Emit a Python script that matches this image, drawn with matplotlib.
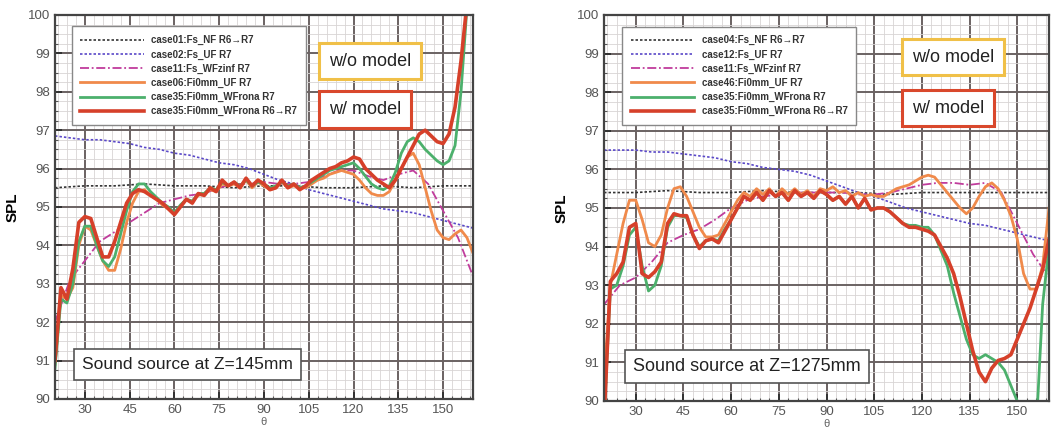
import numpy as np
import matplotlib
matplotlib.use("Agg")
import matplotlib.pyplot as plt
from matplotlib.ticker import MultipleLocator

plt.rcParams["font.family"] = ["Liberation Sans", "DejaVu Sans"]

# ── data ─────────────────────────────────────────────────────────────────────
THETA_FINE = np.arange(20, 161, 2)      # solid curves
THETA_COARSE = np.arange(20, 161, 5)    # dotted / dash-dot curves
THETA_FLAT = np.arange(20, 161, 10)     # NF reference

# left panel: source at Z=145mm
L_NF = [95.5, 95.55, 95.55, 95.6, 95.55, 95.55, 95.5, 95.55,
        95.55, 95.5, 95.5, 95.55, 95.5, 95.55, 95.55]
L_UF = [96.85, 96.8, 96.75, 96.75, 96.7, 96.65, 96.55, 96.5, 96.4, 96.35,
        96.25, 96.15, 96.1, 96.0, 95.85, 95.7, 95.6, 95.45, 95.35, 95.25,
        95.15, 95.05, 94.95, 94.9, 94.85, 94.75, 94.65, 94.55, 94.45]
L_WFZ = [92.0, 93.1, 93.6, 94.1, 94.35, 94.6, 94.85, 95.1, 95.2, 95.3,
         95.35, 95.5, 95.6, 95.6, 95.65, 95.6, 95.6, 95.65, 95.8, 95.95,
         95.95, 95.8, 95.7, 95.85, 95.95, 95.6, 94.9, 94.2, 93.2]
L_FI_UF = [90.9, 92.7, 92.6, 92.9, 94.0, 94.5, 94.4, 94.0, 93.6, 93.35,
           93.35, 93.9, 94.6, 95.1, 95.4, 95.45, 95.3, 95.2, 95.05, 94.95,
           94.85, 95.0, 95.2, 95.15, 95.3, 95.35, 95.45, 95.4, 95.6, 95.55,
           95.6, 95.5, 95.7, 95.5, 95.65, 95.55, 95.45, 95.5, 95.65, 95.5,
           95.55, 95.5, 95.5, 95.6, 95.7, 95.75, 95.85, 95.9, 95.95, 95.9,
           95.85, 95.7, 95.5, 95.35, 95.3, 95.3, 95.4, 95.7, 96.0, 96.3,
           96.4, 96.1, 95.5, 94.9, 94.4, 94.2, 94.15, 94.3, 94.4, 94.2, 93.8]
L_FI_WF = [90.8, 92.6, 92.5, 93.0, 94.1, 94.5, 94.5, 94.0, 93.6, 93.45,
           93.7, 94.3, 94.9, 95.4, 95.6, 95.6, 95.4, 95.25, 95.1, 95.0,
           94.85, 95.05, 95.2, 95.15, 95.35, 95.35, 95.5, 95.45, 95.65, 95.55,
           95.65, 95.55, 95.7, 95.55, 95.65, 95.6, 95.5, 95.55, 95.65, 95.55,
           95.6, 95.5, 95.55, 95.65, 95.75, 95.85, 95.95, 96.0, 96.05, 96.1,
           96.15, 96.0, 95.8, 95.6, 95.5, 95.45, 95.55, 95.9, 96.4, 96.7,
           96.8, 96.7, 96.5, 96.35, 96.2, 96.1, 96.2, 96.6, 98.0, 100.2, 101.5]
L_FI_WF67 = [91.0, 92.9, 92.6, 93.4, 94.6, 94.75, 94.7, 94.2, 93.7, 93.7,
             94.1, 94.6, 95.1, 95.35, 95.45, 95.4, 95.3, 95.2, 95.1, 94.95,
             94.8, 95.0, 95.2, 95.1, 95.35, 95.3, 95.5, 95.4, 95.7, 95.55,
             95.65, 95.5, 95.75, 95.55, 95.7, 95.6, 95.45, 95.5, 95.7, 95.5,
             95.6, 95.45, 95.55, 95.7, 95.8, 95.9, 96.0, 96.05, 96.15, 96.2,
             96.3, 96.25, 96.0, 95.85, 95.7, 95.6, 95.5, 95.7, 96.0, 96.3,
             96.6, 96.9, 97.0, 96.85, 96.7, 96.65, 96.9, 97.6, 98.8, 100.3, 101.5]

# right panel: source at Z=1275mm
R_NF = [95.4, 95.4, 95.45, 95.4, 95.4, 95.45, 95.4, 95.4,
        95.4, 95.35, 95.4, 95.4, 95.4, 95.4, 95.4]
R_UF = [96.5, 96.5, 96.5, 96.45, 96.45, 96.4, 96.35, 96.3, 96.2, 96.15,
        96.05, 96.0, 95.95, 95.85, 95.7, 95.55, 95.4, 95.3, 95.15, 95.0,
        94.9, 94.8, 94.7, 94.6, 94.55, 94.45, 94.35, 94.25, 94.15]
R_WFZ = [92.5, 93.0, 93.2, 93.6, 94.1, 94.3, 94.45, 94.7, 95.0, 95.2,
         95.3, 95.35, 95.4, 95.4, 95.4, 95.4, 95.35, 95.35, 95.4, 95.5,
         95.6, 95.65, 95.65, 95.6, 95.65, 95.4, 94.6, 93.8, 93.2]
R_FI_UF = [90.5, 93.0, 93.8, 94.6, 95.2, 95.2, 94.7, 94.1, 94.0, 94.3,
           95.0, 95.5, 95.55, 95.3, 94.9, 94.5, 94.25, 94.25, 94.3, 94.6,
           94.9, 95.2, 95.4, 95.3, 95.5, 95.35, 95.5, 95.3, 95.5, 95.35,
           95.5, 95.35, 95.45, 95.3, 95.5, 95.45, 95.55, 95.4, 95.45, 95.3,
           95.4, 95.3, 95.35, 95.3, 95.3, 95.4, 95.5, 95.55, 95.6, 95.7,
           95.8, 95.85, 95.8, 95.6, 95.4, 95.2, 95.0, 94.85, 95.0, 95.3,
           95.55, 95.65, 95.5, 95.2, 94.8, 94.2, 93.3, 92.9, 92.9, 93.5, 95.0]
R_FI_WF = [89.5, 92.9, 93.0, 93.5, 94.3, 94.5, 93.5, 92.85, 93.0, 93.5,
           94.5, 94.8, 94.8, 94.75, 94.3, 94.0, 94.15, 94.2, 94.15, 94.45,
           94.7, 95.0, 95.3, 95.2, 95.4, 95.2, 95.45, 95.3, 95.4, 95.2,
           95.45, 95.3, 95.4, 95.25, 95.45, 95.35, 95.2, 95.3, 95.1, 95.3,
           95.0, 95.25, 94.95, 95.0, 95.0, 94.9, 94.75, 94.6, 94.55, 94.55,
           94.5, 94.5, 94.3, 93.9, 93.5, 92.8, 92.2, 91.6, 91.2, 91.1,
           91.2, 91.1, 91.0, 90.8, 90.4, 90.0, 89.3, 89.0, 89.3, 92.5, 94.0]
R_FI_WF67 = [89.5, 93.1, 93.3, 93.6, 94.5, 94.6, 93.3, 93.2, 93.35, 93.6,
             94.6, 94.85, 94.8, 94.8, 94.3, 93.95, 94.15, 94.2, 94.1, 94.4,
             94.7, 95.0, 95.3, 95.2, 95.4, 95.2, 95.45, 95.3, 95.4, 95.2,
             95.45, 95.3, 95.4, 95.25, 95.45, 95.35, 95.2, 95.3, 95.1, 95.3,
             95.0, 95.25, 94.95, 95.0, 95.0, 94.9, 94.75, 94.6, 94.5, 94.5,
             94.45, 94.4, 94.3, 94.0, 93.7, 93.3, 92.7, 92.0, 91.3, 90.75,
             90.5, 90.85, 91.05, 91.1, 91.2, 91.6, 92.0, 92.4, 92.9, 93.4, 94.2]

L_LABELS = ["case01:Fs_NF R6\u2192R7", "case02:Fs_UF R7", "case11:Fs_WFzinf R7",
            "case06:Fi0mm_UF R7", "case35:Fi0mm_WFrona R7",
            "case35:Fi0mm_WFrona R6\u2192R7"]
R_LABELS = ["case04:Fs_NF R6\u2192R7", "case12:Fs_UF R7", "case11:Fs_WFzinf R7",
            "case46:Fi0mm_UF R7", "case35:Fi0mm_WFrona R7",
            "case35:Fi0mm_WFrona R6\u2192R7"]

PANELS = [
    dict(rect=[0.0523, 0.0764, 0.3977, 0.889],
         series=[L_NF, L_UF, L_WFZ, L_FI_UF, L_FI_WF, L_FI_WF67],
         labels=L_LABELS, source="Sound source at Z=145mm", src_fs=12.5,
         wo_pos=(0.754, 0.88), w_pos=(0.742, 0.753)),
    dict(rect=[0.5747, 0.0718, 0.4234, 0.8935],
         series=[R_NF, R_UF, R_WFZ, R_FI_UF, R_FI_WF, R_FI_WF67],
         labels=R_LABELS, source="Sound source at Z=1275mm", src_fs=13,
         wo_pos=(0.784, 0.891), w_pos=(0.773, 0.759)),
]

STYLES = [
    dict(color="#333333", ls=(0, (1.5, 1.2)), lw=1.2),
    dict(color="#5a48c8", ls=(0, (1.5, 1.2)), lw=1.2),
    dict(color="#c03c9c", ls=(0, (5, 1.5, 1, 1.5)), lw=1.3),
    dict(color="#f08a4b", ls="-", lw=2.0),
    dict(color="#4cb06c", ls="-", lw=2.0),
    dict(color="#d6402a", ls="-", lw=2.6),
]
X_SETS = [THETA_FLAT, THETA_COARSE, THETA_COARSE, THETA_FINE, THETA_FINE, THETA_FINE]

fig = plt.figure(figsize=(10.51, 4.32), dpi=100)

for p in PANELS:
    ax = fig.add_axes(p["rect"])
    for xs, ys, st, lab in zip(X_SETS, p["series"], STYLES, p["labels"]):
        ax.plot(xs, ys, label=lab, **st)

    ax.set_xlim(20, 160)
    ax.set_ylim(90, 100)
    ax.xaxis.set_major_locator(MultipleLocator(15))
    ax.xaxis.set_minor_locator(MultipleLocator(3))
    ax.yaxis.set_major_locator(MultipleLocator(1))
    ax.yaxis.set_minor_locator(MultipleLocator(0.25))
    ax.grid(which="major", color="#6a6262", lw=1.4)
    ax.grid(which="minor", color="#d8d4d4", lw=0.6)
    ax.set_axisbelow(True)
    ax.tick_params(which="major", direction="in", length=5, width=1.4,
                   labelsize=9.5, labelcolor="#555555", color="#333333")
    ax.tick_params(which="minor", direction="in", length=2.5, width=0.8,
                   color="#555555")
    for sp in ax.spines.values():
        sp.set_color("#444444")
        sp.set_linewidth(1.6)

    ax.set_ylabel("SPL", fontsize=11, fontweight="bold", labelpad=6)
    ax.set_xlabel("\u03b8", fontsize=8, color="#666666", labelpad=1)

    leg = ax.legend(loc="upper left", bbox_to_anchor=(0.04, 0.97),
                    borderaxespad=0, fontsize=7, handlelength=6.5,
                    labelspacing=0.42, fancybox=False, framealpha=1,
                    edgecolor="#888888", borderpad=0.9)
    for t in leg.get_texts():
        t.set_fontweight("bold")
        t.set_color("#333333")

    ax.text(*p["wo_pos"], "w/o model", transform=ax.transAxes, fontsize=13,
            ha="center", va="center", color="#222222",
            bbox=dict(boxstyle="square,pad=0.55", fc="white", ec="#f0c048", lw=2.2))
    ax.text(*p["w_pos"], "w/ model", transform=ax.transAxes, fontsize=13,
            ha="center", va="center", color="#222222",
            bbox=dict(boxstyle="square,pad=0.55", fc="white", ec="#d9482c", lw=2.2))
    ax.text(0.065, 0.09, p["source"], transform=ax.transAxes, fontsize=p["src_fs"],
            ha="left", va="center", color="#222222",
            bbox=dict(boxstyle="square,pad=0.45", fc="white", ec="#555555", lw=1.2))

fig.savefig("out.png", dpi=100)
